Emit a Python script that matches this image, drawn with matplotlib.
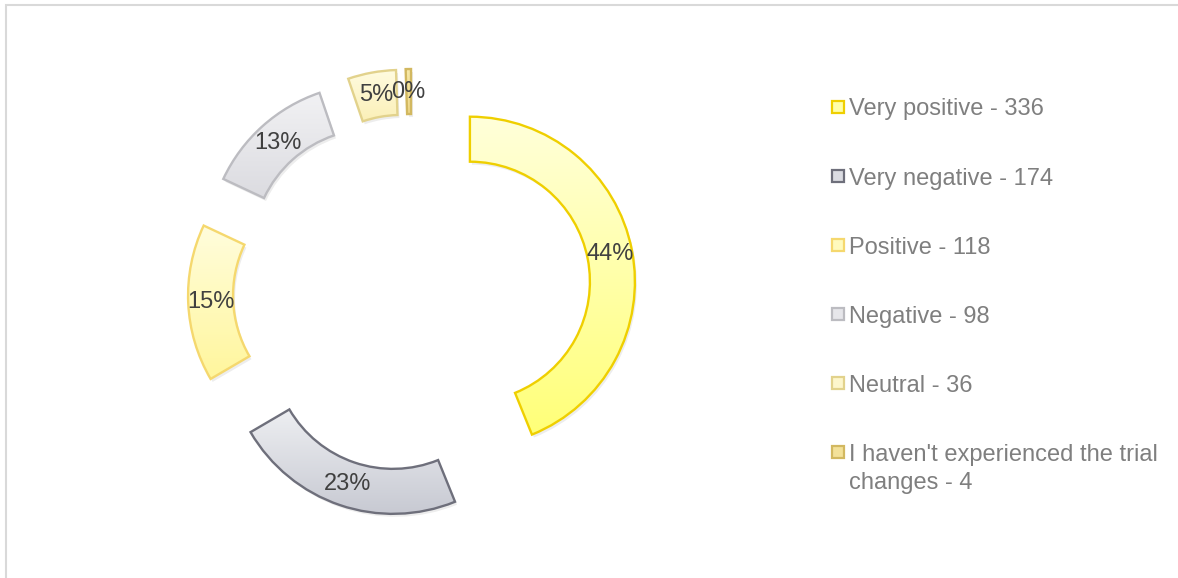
import matplotlib.pyplot as plt
import numpy as np
from matplotlib.colors import to_rgb
from matplotlib.patches import Rectangle, Wedge

W, H = 1178, 578

labels = ['Very positive - 336', 'Very negative - 174', 'Positive - 118',
          'Negative - 98', 'Neutral - 36',
          "I haven't experienced the trial\nchanges - 4"]
counts = [336, 174, 118, 98, 36, 4]
pct_labels = ['44%', '23%', '15%', '13%', '5%', '0%']

# gradient top -> bottom, edge colour
grad_top = ['#FFFFDA', '#EEEFF2', '#FFFDDD', '#F2F2F4', '#FFFCE2', '#F8EAAA']
grad_bot = ['#FFFF78', '#C7C9D2', '#FFF69C', '#DBDBE0', '#FBEFB6', '#EED788']
edges = ['#EFCF00', '#6E6F7B', '#F5D86E', '#BCBCC1', '#E2D28C', '#D2B860']

plt.rcParams['font.family'] = ['Liberation Sans', 'DejaVu Sans']

fig = plt.figure(figsize=(W / 100, H / 100), dpi=100)
ax = fig.add_axes([0, 0, 1, 1])

cx, cy = 412, H - 293
R, ring = 165, 45
pct_iter = iter(pct_labels)

wedges, texts, autotexts = ax.pie(
    counts, startangle=90, counterclock=False, radius=R, center=(cx, cy),
    explode=[59] * len(counts),
    wedgeprops=dict(width=ring, linewidth=1.7, facecolor='none'),
    autopct=lambda p: next(pct_iter), pctdistance=(R - ring / 2) / R,
    textprops=dict(fontsize=17, color='#404040'))

for i, w in enumerate(wedges):
    w.set_edgecolor(edges[i])
    w.set_zorder(3)
    # soft shadow below-right
    ax.add_patch(Wedge((w.center[0] + 2, w.center[1] - 3), w.r, w.theta1, w.theta2,
                       width=w.width, facecolor='#000000', alpha=0.07,
                       edgecolor='none', zorder=1))
    bb = w.get_path().get_extents(w.get_patch_transform())
    c0, c1 = np.array(to_rgb(grad_top[i])), np.array(to_rgb(grad_bot[i]))
    t = np.linspace(0, 1, 64)[:, None, None]
    img = c0 * (1 - t) + c1 * t
    im = ax.imshow(img, extent=[bb.x0 - 2, bb.x1 + 2, bb.y0 - 2, bb.y1 + 2],
                   origin='upper', aspect='auto', zorder=2, interpolation='bilinear')
    im.set_clip_path(w)

for t in autotexts:
    t.set_zorder(5)

# legend
for i, lab in enumerate(labels):
    ry = 107 + 69 * i
    c = (np.array(to_rgb(grad_top[i])) + np.array(to_rgb(grad_bot[i]))) / 2
    ax.add_patch(Rectangle((831.5, H - ry - 6), 12, 12, facecolor=c,
                           edgecolor=edges[i], linewidth=1.6, zorder=3))
    for k, line in enumerate(lab.split('\n')):
        ax.text(849, H - ry - 8.5 - 28 * k, line, fontsize=17, color='#7F7F7F',
                va='baseline', ha='left')

# chart area border
ax.add_patch(Rectangle((6, -10), W + 20, H - 5 + 10, facecolor='none',
                       edgecolor='#D9D9D9', linewidth=1.5, zorder=0))

ax.set_xlim(0, W)
ax.set_ylim(0, H)
ax.set_aspect('auto')
ax.axis('off')

fig.savefig('out.png', dpi=100)
